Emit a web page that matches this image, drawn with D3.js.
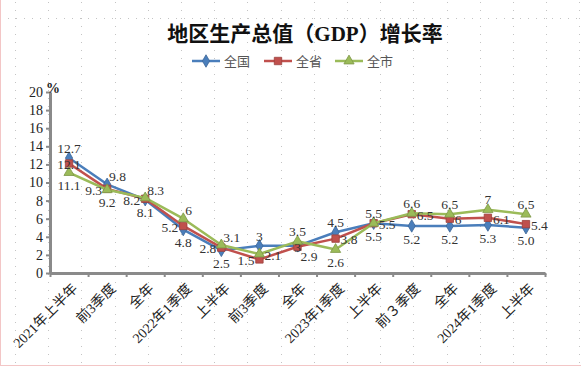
<!DOCTYPE html>
<html>
<head>
<meta charset="utf-8">
<script src="https://cdn.jsdelivr.net/npm/d3@7"></script>
<style>
  html, body { margin: 0; padding: 0; background: #fff; }
  svg { display: block; }
</style>
</head>
<body>
<svg id="chart" width="581" height="367"></svg>
<script>
// ── data ──
const categories = ['2021年上半年', '前3季度', '全年', '2022年1季度', '上半年', '前3季度',
  '全年', '2023年1季度', '上半年', '前３季度', '全年', '2024年1季度', '上半年'];
const seriesNames = ['全国', '全省', '全市'];
const nationVals   = [12.7, 9.8, 8.1, 4.8, 2.5, 3.0, 3.0, 4.5, 5.5, 5.2, 5.2, 5.3, 5.0];
const nationLabels = ['12.7', '9.8', '8.1', '4.8', '2.5', '3', '3', '4.5', '5.5', '5.2', '5.2', '5.3', '5.0'];
const provVals     = [12.1, 9.3, 8.2, 5.2, 2.8, 1.5, 2.9, 3.8, 5.5, 6.5, 6.0, 6.1, 5.4];
const cityVals     = [11.1, 9.2, 8.3, 6.0, 3.1, 2.1, 3.5, 2.6, 5.5, 6.6, 6.5, 7.0, 6.5];
const yTicks = [0, 2, 4, 6, 8, 10, 12, 14, 16, 18, 20];

// label placement per point (layout, not data)
const POS = {
  '全国': ['t', 'tr', 'b', 'b', 'b', 't', 'c', 't', 'b', 'b', 'b', 'b', 'b'],
  '全省': ['c', 'l', 'l', 'l', 'l', 'l', 'br', 'r', 'r', 'r', 'r', 'r', 'r'],
  '全市': ['b', 'b', 'tr', 'tr', 'tr', 'r', 't', 'b', 't', 't', 't', 't', 't'],
};

const SERIF = '"Liberation Serif", "Times New Roman", "Noto Sans CJK SC", serif';
const W = 581, H = 367;
const svg = d3.select('#chart');

// ── page background: drawing-grid dots + faint pink frame ──
const bg = svg.append('g');
bg.append('rect').attr('width', W).attr('height', H).attr('fill', '#fff');
for (let gx = 15; gx < W; gx += 33.2) {
  for (let gy = 2; gy < H; gy += 8) {
    bg.append('rect').attr('x', Math.round(gx)).attr('y', gy).attr('width', 1).attr('height', 1).attr('fill', '#c4c4c4');
  }
}
for (let gx = 0; gx < W; gx += 8) {
  bg.append('rect').attr('x', gx).attr('y', 18).attr('width', 1).attr('height', 1).attr('fill', '#c4c4c4');
}
bg.append('line').attr('x1', 0.5).attr('x2', 0.5).attr('y1', 0).attr('y2', 365).attr('stroke', '#f3c6c6');
bg.append('line').attr('x1', 0).attr('x2', W).attr('y1', 365.5).attr('y2', 365.5).attr('stroke', '#f3c6c6');

// ── scales ──
const x = d3.scaleBand().domain(d3.range(categories.length)).range([50, 545]);
const xEdge = d3.scaleLinear([0, categories.length], [50, 545]);
const y = d3.scaleLinear([0, 20], [273, 92]);
const cx = i => x(i) + x.bandwidth() / 2;

// ── title + legend ──
svg.append('text')
  .attr('x', 305).attr('y', 41)
  .attr('text-anchor', 'middle')
  .attr('font-family', SERIF).attr('font-weight', 'bold').attr('font-size', 21)
  .attr('fill', '#111')
  .text('地区生产总值（GDP）增长率');

const SERIES = [
  { name: '全国', vals: nationVals, labels: nationLabels, color: '#4A7EBB', mk: d3.symbolDiamond, mkSize: 45, lx: 192 },
  { name: '全省', vals: provVals, labels: provVals.map(String), color: '#C0504D', mk: d3.symbolSquare, mkSize: 55, lx: 264 },
  { name: '全市', vals: cityVals, labels: cityVals.map(String), color: '#9BBB59', mk: d3.symbolTriangle, mkSize: 45, lx: 335 },
];

const lg = svg.append('g');
SERIES.forEach(s => {
  lg.append('line').attr('x1', s.lx).attr('x2', s.lx + 28).attr('y1', 61).attr('y2', 61)
    .attr('stroke', s.color).attr('stroke-width', 2.5);
  lg.append('path').attr('d', d3.symbol(s.mk, s.mkSize)())
    .attr('transform', `translate(${s.lx + 14},61)`)
    .attr('fill', s.color).attr('stroke', d3.color(s.color).darker(0.6)).attr('stroke-width', 0.8);
  lg.append('text').attr('x', s.lx + 32).attr('y', 66)
    .attr('font-family', SERIF).attr('font-size', 13).attr('fill', '#555')
    .text(s.name);
});

// ── axes ──
const yAxis = svg.append('g').attr('transform', 'translate(50,0)')
  .call(d3.axisLeft(y).tickValues(yTicks).tickSize(4).tickSizeOuter(0).tickPadding(3));
yAxis.select('.domain').attr('stroke', '#8a8a8a').attr('stroke-width', 3);
yAxis.selectAll('.tick line').attr('stroke', '#8a8a8a').attr('stroke-width', 2);
yAxis.selectAll('.tick text').attr('font-family', SERIF).attr('font-size', 14).attr('fill', '#222');

const xAxis = svg.append('g').attr('transform', 'translate(0,273)')
  .call(d3.axisBottom(xEdge).tickValues(d3.range(categories.length + 1)).tickSize(4).tickSizeOuter(0).tickFormat(''));
xAxis.select('.domain').attr('stroke', '#8a8a8a').attr('stroke-width', 3);
xAxis.selectAll('.tick line').attr('stroke', '#8a8a8a').attr('stroke-width', 2);

svg.append('text').attr('x', 53).attr('y', 93)
  .attr('text-anchor', 'middle')
  .attr('font-family', SERIF).attr('font-weight', 'bold').attr('font-size', 14).attr('fill', '#222')
  .text('%');

svg.append('g').selectAll('text')
  .data(categories)
  .join('text')
  .attr('transform', (d, i) => `translate(${cx(i) + 6},286) rotate(-45)`)
  .attr('text-anchor', 'end')
  .attr('dy', '0.35em')
  .attr('font-family', SERIF).attr('font-size', 14).attr('fill', '#222')
  .text(d => d);

// ── series lines + markers ──
const line = d3.line().x((d, i) => cx(i)).y(d => y(d));
SERIES.forEach(s => {
  svg.append('path')
    .attr('d', line(s.vals))
    .attr('fill', 'none')
    .attr('stroke', s.color)
    .attr('stroke-width', 2.5)
    .attr('stroke-linejoin', 'round');
  svg.append('g').selectAll('path')
    .data(s.vals)
    .join('path')
    .attr('d', d3.symbol(s.mk, s.mkSize)())
    .attr('transform', (d, i) => `translate(${cx(i)},${y(d)})`)
    .attr('fill', s.color)
    .attr('stroke', d3.color(s.color).darker(0.6))
    .attr('stroke-width', 0.8);
});

// ── data labels ──
const OFF = {
  t:  { dx: 0,  dy: -10, a: 'middle' },
  b:  { dx: 0,  dy: 13,  a: 'middle' },
  l:  { dx: -5, dy: 1,   a: 'end' },
  r:  { dx: 5,  dy: 1,   a: 'start' },
  tr: { dx: 2,  dy: -8,  a: 'start' },
  br: { dx: 3,  dy: 10,  a: 'start' },
  c:  { dx: 0,  dy: 1,   a: 'middle' },
};
SERIES.forEach(s => {
  svg.append('g').selectAll('text')
    .data(s.vals)
    .join('text')
    .each(function(d, i) {
      const o = OFF[POS[s.name][i]];
      d3.select(this)
        .attr('x', cx(i) + o.dx)
        .attr('y', y(d) + o.dy)
        .attr('dy', '0.35em')
        .attr('text-anchor', o.a);
    })
    .attr('font-family', SERIF).attr('font-size', 13.5).attr('fill', '#333')
    .text((d, i) => s.labels[i]);
});
</script>
</body>
</html>
